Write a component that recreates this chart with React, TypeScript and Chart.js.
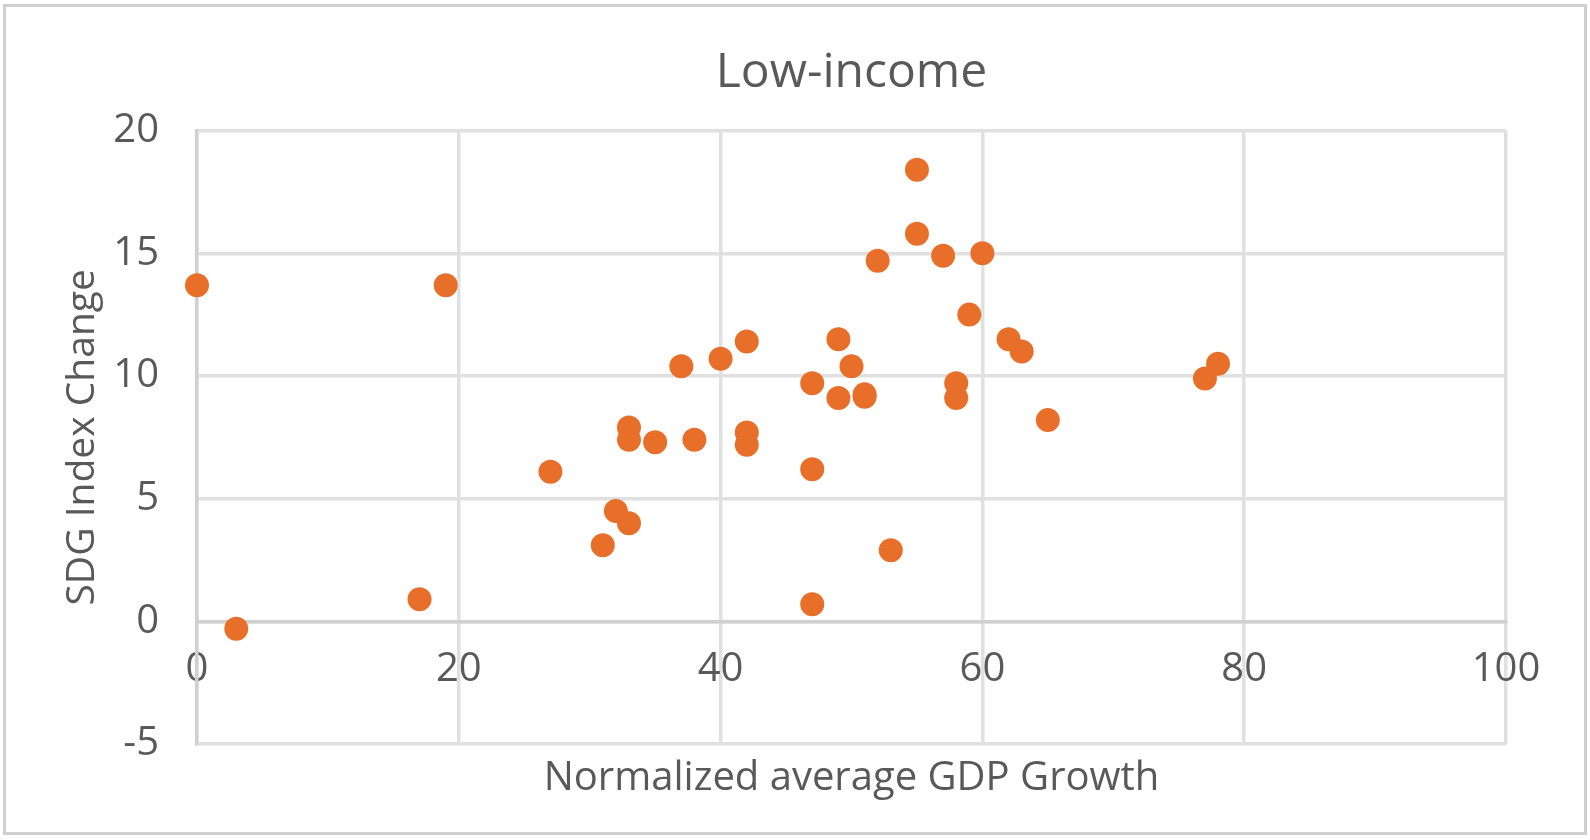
import { useEffect, useRef } from "react";
import { Chart, registerables } from "chart.js";

Chart.register(...registerables);

// Low-income countries: normalized GDP growth vs SDG index change
const gdpGrowth = [
  0, 3, 17, 19, 27, 31, 32, 33, 33, 33, 35, 37, 38, 40, 42, 42, 42, 47, 47, 47,
  49, 49, 50, 51, 51, 52, 53, 55, 55, 57, 60, 59, 58, 58, 62, 63, 65, 77, 78,
];
const sdgChange = [
  13.7, -0.3, 0.9, 13.7, 6.1, 3.1, 4.5, 4.0, 7.9, 7.4, 7.3, 10.4, 7.4, 10.7, 11.4, 7.7, 7.2, 9.7, 6.2, 0.7,
  11.5, 9.1, 10.4, 9.25, 9.15, 14.7, 2.9, 18.4, 15.8, 14.9, 15.0, 12.5, 9.7, 9.1, 11.5, 11.0, 8.2, 9.9, 10.5,
];

const FONT = "'Open Sans', 'Noto Sans', sans-serif";
const TEXT = "#595959";
const GRID = "#E0E0E0";
const AXIS = "#D0D0D0";

const frame = {
  id: "frame",
  afterDraw(chart: Chart) {
    const { ctx } = chart;
    ctx.save();
    ctx.strokeStyle = AXIS;
    ctx.lineWidth = 3;
    ctx.strokeRect(4.5, 5.5, 1581, 828);
    ctx.restore();
  },
};

export default function App() {
  const canvasRef = useRef<HTMLCanvasElement>(null);

  useEffect(() => {
    if (!canvasRef.current) return;
    const chart = new Chart(canvasRef.current, {
      type: "scatter",
      data: {
        datasets: [
          {
            label: "Low-income",
            data: gdpGrowth.map((x, i) => ({ x, y: sdgChange[i] })),
            backgroundColor: "#E86F2A",
            borderColor: "#E86F2A",
            borderWidth: 0,
            pointRadius: 12,
            clip: false as any,
          },
        ],
      },
      options: {
        responsive: false,
        animation: false,
        layout: { padding: { top: 10, left: 20, right: 84, bottom: 37 } },
        plugins: {
          legend: { display: false },
          tooltip: { enabled: false },
          title: {
            display: true,
            text: "Low-income",
            color: TEXT,
            fullSize: false,
            font: { family: FONT, size: 48, weight: "normal" },
            padding: { top: 35, bottom: 28 },
          },
        },
        scales: {
          x: {
            type: "linear",
            min: 0,
            max: 100,
            position: { y: 0 } as any,
            grid: { color: GRID, lineWidth: 3.5, drawTicks: false },
            border: { color: AXIS, width: 3.5 },
            ticks: {
              stepSize: 20,
              padding: 24,
              color: TEXT,
              font: { family: FONT, size: 40 },
            },
          },
          x2: {
            type: "linear",
            axis: "x",
            position: "bottom",
            min: 0,
            max: 100,
            grid: { display: false },
            border: { display: false },
            ticks: { display: false },
            title: {
              display: true,
              text: "Normalized average GDP Growth",
              color: TEXT,
              font: { family: FONT, size: 40 },
              padding: { top: 3, bottom: 0 },
            },
          },
          y: {
            type: "linear",
            min: -5,
            max: 20,
            grid: { color: GRID, lineWidth: 3.5, drawTicks: false },
            border: { color: AXIS, width: 3.5 },
            ticks: {
              stepSize: 5,
              padding: 38,
              color: TEXT,
              font: { family: FONT, size: 40 },
            },
            title: {
              display: true,
              text: "SDG Index Change",
              color: TEXT,
              font: { family: FONT, size: 39 },
              padding: { top: 39, bottom: 0 },
            },
            afterFit: (scale: any) => {
              scale.width = 177;
            },
          },
        },
      },
      plugins: [frame],
    });
    return () => chart.destroy();
  }, []);

  return (
    <div style={{ position: "fixed", left: 0, top: 0, width: 1590, height: 840, background: "#fff" }}>
      <canvas ref={canvasRef} width={1590} height={840} />
    </div>
  );
}
